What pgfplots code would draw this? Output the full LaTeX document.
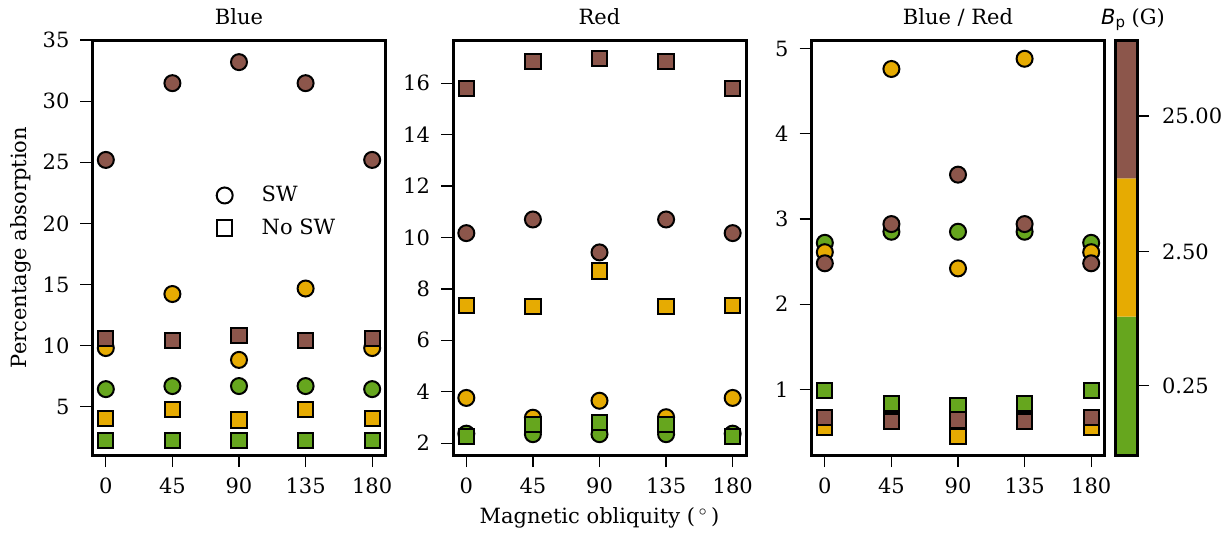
\documentclass[border=0pt]{standalone}
\usepackage{fontspec}
\setmainfont{DejaVu Serif}
\newfontfamily\dvs{DejaVu Sans}
\usepackage{pgfplots}
\pgfplotsset{compat=1.18}
\definecolor{cg}{HTML}{66A61E}
\definecolor{cy}{HTML}{E6AB02}
\definecolor{cb}{HTML}{8C564B}
\newcommand{\fs}{\fontsize{10.5}{12.6}\selectfont}
\pgfplotsset{
  panel/.style={
    scale only axis, width=146.5pt, height=207.5pt, anchor=south west,
    axis line style={line width=1.5pt},
    tick pos=left, tick align=outside, major tick length=6pt,
    every tick/.style={line width=0.6pt, black},
    xmin=-9, xmax=189, xtick={0,45,90,135,180},
    /pgf/number format/assume math mode=true,
    tick label style={font=\fs},
    xticklabel style={yshift=-2pt},
    yticklabel style={xshift=-2pt},
    label style={font=\fs},
    title style={font=\fs, at={(axis description cs:0.5,1)}, anchor=base, yshift=2pt},
    clip=false,
  },
  sw/.style={only marks, forget plot, mark=*, mark size=4pt, mark options={draw=black, fill=#1, line width=1pt}},
  nsw/.style={only marks, forget plot, mark=square*, mark size=3.8pt, mark options={draw=black, fill=#1, line width=1pt}},
}
\begin{document}
\begin{tikzpicture}
\useasboundingbox (-46.25pt,-38.5pt) rectangle (568.75pt,227.5pt);
% ---------------- Blue ----------------
\begin{axis}[panel, at={(0pt,0pt)}, ymin=1.05, ymax=35, ytick={5,10,15,20,25,30,35},
  title={Blue}, ylabel={Percentage absorption},
  ylabel style={at={(axis description cs:-0.245,0.5)}, anchor=center, rotate=0},
  legend style={draw=none, fill=none, font=\fs, at={(axis description cs:0.402,0.668)}, anchor=north west, row sep=3pt},
  legend cell align=left]
\addplot[sw=cg] coordinates {(0,6.44)(45,6.69)(90,6.69)(135,6.69)(180,6.44)};
\addplot[sw=cy] coordinates {(0,9.8)(45,14.22)(90,8.83)(135,14.67)(180,9.8)};
\addplot[sw=cb] coordinates {(0,25.19)(45,31.47)(90,33.19)(135,31.47)(180,25.19)};
\addplot[nsw=cg] coordinates {(0,2.25)(45,2.25)(90,2.25)(135,2.25)(180,2.25)};
\addplot[nsw=cy] coordinates {(0,4.03)(45,4.78)(90,3.92)(135,4.78)(180,4.03)};
\addplot[nsw=cb] coordinates {(0,10.58)(45,10.44)(90,10.83)(135,10.44)(180,10.58)};
\addlegendimage{only marks, mark=o, mark size=4pt, mark options={draw=black, fill=white, line width=1pt}}
\addlegendentry{\hspace*{12.5pt}SW}
\addlegendimage{only marks, mark=square, mark size=3.8pt, mark options={draw=black, fill=white, line width=1pt}}
\addlegendentry{\hspace*{12.5pt}No SW}
\end{axis}
% ---------------- Red ----------------
\begin{axis}[panel, at={(180.25pt,0pt)}, ymin=1.54, ymax=17.68, ytick={2,4,6,8,10,12,14,16},
  title={Red}, xlabel={Magnetic obliquity (\,$^\circ$\,)},
  xlabel style={at={(axis description cs:0.5,0)}, anchor=center, yshift=-31.5pt}]
\addplot[sw=cg] coordinates {(0,2.37)(45,2.35)(90,2.35)(135,2.35)(180,2.37)};
\addplot[sw=cy] coordinates {(0,3.76)(45,2.99)(90,3.65)(135,3.01)(180,3.76)};
\addplot[sw=cb] coordinates {(0,10.17)(45,10.70)(90,9.42)(135,10.70)(180,10.17)};
\addplot[nsw=cg] coordinates {(0,2.27)(45,2.72)(90,2.79)(135,2.72)(180,2.27)};
\addplot[nsw=cy] coordinates {(0,7.35)(45,7.31)(90,8.70)(135,7.31)(180,7.35)};
\addplot[nsw=cb] coordinates {(0,15.78)(45,16.83)(90,16.96)(135,16.83)(180,15.78)};
\end{axis}
% ---------------- Blue / Red ----------------
\begin{axis}[panel, at={(359.5pt,0pt)}, ymin=0.23, ymax=5.1, ytick={1,2,3,4,5},
  title={Blue / Red}]
\addplot[sw=cg] coordinates {(0,2.72)(45,2.85)(90,2.85)(135,2.85)(180,2.72)};
\addplot[sw=cy] coordinates {(0,2.61)(45,4.76)(90,2.42)(135,4.88)(180,2.61)};
\addplot[sw=cb] coordinates {(0,2.48)(45,2.94)(90,3.52)(135,2.94)(180,2.48)};
\addplot[nsw=cg] coordinates {(0,0.99)(45,0.83)(90,0.81)(135,0.83)(180,0.99)};
\addplot[nsw=cy] coordinates {(0,0.55)(45,0.65)(90,0.45)(135,0.65)(180,0.55)};
\addplot[nsw=cb] coordinates {(0,0.67)(45,0.62)(90,0.64)(135,0.62)(180,0.67)};
\end{axis}
% ---------------- colour bar ----------------
\begin{axis}[scale only axis, width=11pt, height=207.5pt, anchor=south west, at={(511.25pt,0pt)},
  xmin=0, xmax=1, ymin=0, ymax=3, xtick=\empty,
  ytick={0.5,1.47,2.45}, yticklabels={0.25,2.50,25.00},
  ytick pos=right, tick align=outside, major tick length=6pt,
  every tick/.style={line width=0.6pt, black},
  axis line style={line width=1.5pt}, axis on top,
  tick label style={font=\fs}, yticklabel style={xshift=3pt},
  title style={font=\fs, at={(axis description cs:0.5,1)}, anchor=base, yshift=2pt, xshift=3.5pt},
  title={{\dvs\itshape B}\raisebox{-0.35ex}{\dvs\fontsize{7.5}{9}\selectfont p} (G)}]
\addplot[fill=cg, draw=none] coordinates {(0,0) (1,0) (1,1) (0,1) (0,0)};
\addplot[fill=cy, draw=none] coordinates {(0,1) (1,1) (1,2) (0,2) (0,1)};
\addplot[fill=cb, draw=none] coordinates {(0,2) (1,2) (1,3) (0,3) (0,2)};
\end{axis}
\end{tikzpicture}
\end{document}
